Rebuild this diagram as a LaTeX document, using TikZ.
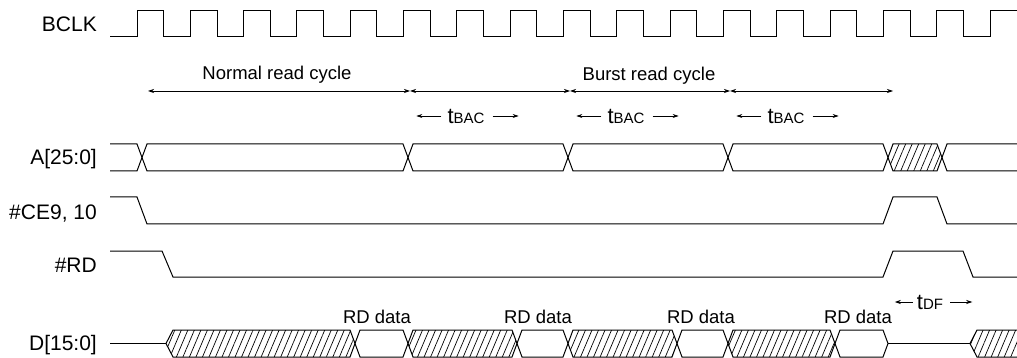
\documentclass[tikz,border=0pt]{standalone}
\usepackage{fontspec}
\setmainfont{Liberation Sans}
\usetikzlibrary{arrows.meta,patterns.meta}

\tikzset{
  wave/.style={line width=1pt, line join=miter},
  hatch/.style={pattern={Lines[angle=67,distance=6pt,line width=0.7pt]}},
  dim/.style={line width=0.7pt, {Stealth[length=6pt,width=4pt]}-{Stealth[length=6pt,width=4pt]}},
  tip/.style={line width=0.7pt, -{Stealth[length=6pt,width=4pt]}},
  siglabel/.style={anchor=base east, inner sep=0pt, font=\fontsize{21}{24}\selectfont},
  note/.style={anchor=base, inner sep=0pt, font=\fontsize{18.5}{22}\selectfont},
  tlabel/.style={inner sep=0pt, font=\fontsize{22}{24}\selectfont},
}
\newcommand{\sm}[1]{{\fontsize{15}{17}\selectfont #1}}

\begin{document}
\begin{tikzpicture}[x=1pt,y=-1pt]
  \useasboundingbox (0,0) rectangle (1017,358);

  % signal names
  \foreach \y/\n/\t in {32/lbclk/{BCLK}, 165/la/{A[25:0]}, 219/lce/{\#CE9, 10}, 272/lrd/{\#RD}, 350/ld/{D[15:0]}}
    \node[siglabel] (\n) at (97,\y) {\t};

  % clock
  \draw[wave] (110,37) \foreach \k in {0,...,15} { -- ({137+53.33*\k},37) -- ++(0,-26) -- ++(26.67,0) -- ++(0,26) } -- (990,37) -- (990,11) -- (1017,11);

  % read cycles
  \coordinate (c0) at (148,91);
  \coordinate (c1) at (410,91);
  \coordinate (c2) at (570,91);
  \coordinate (c3) at (730,91);
  \coordinate (c4) at (893,91);
  \draw[dim] (c0) -- (c1);
  \draw[dim] (c1) -- (c2);
  \draw[dim] (c2) -- (c3);
  \draw[dim] (c3) -- (c4);
  \node[note] (normal) at (277,80) {Normal read cycle};
  \node[note] (burst) at (649,81) {Burst read cycle};

  % access times
  \foreach \x/\n in {466/1, 626/2, 786/3} {
    \node[tlabel] (tbac\n) at (\x,116) {t\sm{BAC}};
    \draw[tip] ([xshift=-6pt]tbac\n.west) -- ++(-25,0);
    \draw[tip] ([xshift=8pt]tbac\n.east) -- ++(26,0);
  }
  \node[tlabel] (tdf) at (930,302) {t\sm{DF}};
  \draw[tip] ([xshift=-4pt]tdf.west) -- ++(-18,0);
  \draw[tip] ([xshift=7pt]tdf.east) -- ++(22,0);

  % A bus
  \path[hatch] (888,157.5) -- (893,144) -- (937,144) -- (942,157.5) -- (937,171) -- (893,171) -- cycle;
  \draw[wave] (110,144) -- (137,144) -- (147,171) -- (403,171) -- (413,144) -- (563,144) -- (573,171) -- (723,171) -- (733,144) -- (883,144) -- (893,171) -- (937,171) -- (947,144) -- (1017,144);
  \draw[wave] (110,171) -- (137,171) -- (147,144) -- (403,144) -- (413,171) -- (563,171) -- (573,144) -- (723,144) -- (733,171) -- (883,171) -- (893,144) -- (937,144) -- (947,171) -- (1017,171);

  % chip enable and read strobe
  \draw[wave] (110,197) -- (137,197) -- (147,224) -- (883,224) -- (893,197) -- (937,197) -- (947,224) -- (1017,224);
  \draw[wave] (110,251) -- (162,251) -- (173,277) -- (883,277) -- (893,251) -- (963,251) -- (973,277) -- (1017,277);

  % D bus
  \draw[wave] (110,343.5) -- (166,343.5);
  \foreach \s/\e/\l in {166/355/7, 408/517/5, 568/677/5, 728/835/5}
    \draw[wave,hatch] (\s,343.5) -- (\s+\l,330) -- (\e-5,330) -- (\e,343.5) -- (\e-5,357) -- (\s+\l,357) -- cycle;
  \foreach \s/\e in {355/408, 517/568, 677/728, 835/888}
    \draw[wave] (\s,343.5) -- (\s+5,330) -- (\e-5,330) -- (\e,343.5) -- (\e-5,357) -- (\s+5,357) -- cycle;
  \foreach \x/\n in {377/1, 538/2, 701/3, 858/4}
    \node[note] (rd\n) at (\x,323) {RD data};
  \draw[wave] (888,343.5) -- (970,343.5);
  \path[hatch] (1017,330) -- (977,330) -- (970,343.5) -- (977,357) -- (1017,357) -- cycle;
  \draw[wave] (1017,330) -- (977,330) -- (970,343.5) -- (977,357) -- (1017,357);
\end{tikzpicture}
\end{document}
